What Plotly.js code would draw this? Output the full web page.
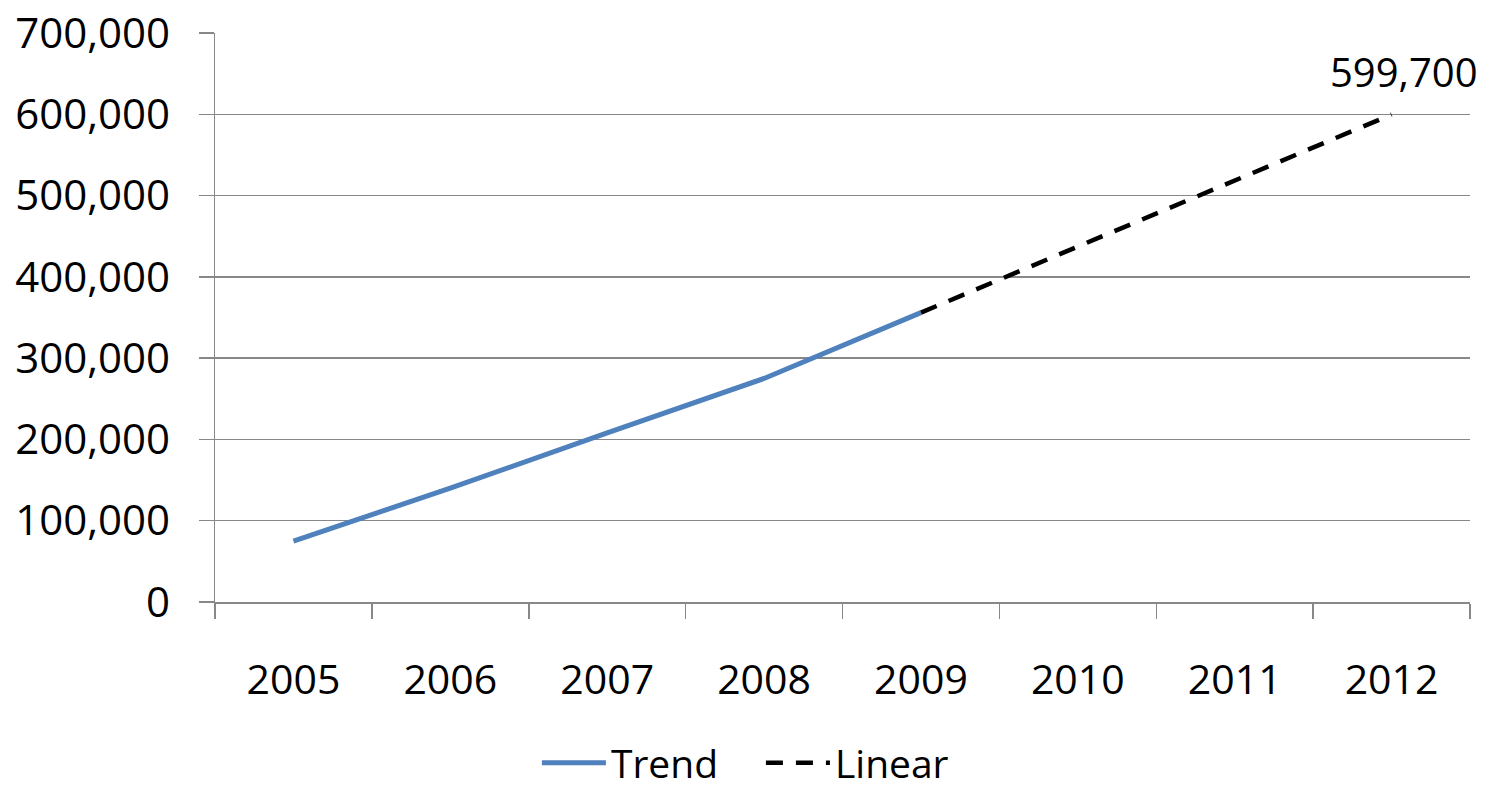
<!DOCTYPE html>
<html>
<head>
<meta charset="utf-8">
<script src="https://cdn.plot.ly/plotly-3.0.1.min.js"></script>
<style>html,body{margin:0;padding:0;background:#fff;}#chart{width:1488px;height:789px;}</style>
</head>
<body>
<div id="chart"></div>
<script>
const categories = ["2005", "2006", "2007", "2008", "2009", "2010", "2011", "2012"];
const trendYears = ["2005", "2006", "2007", "2008", "2009"];
const trendValues = [75000, 140000, 208000, 275000, 356000];
const linearYears = ["2009", "2012"];
const linearValues = [356000, 599700];
const yTicks = [0, 100000, 200000, 300000, 400000, 500000, 600000, 700000];
const yTickLabels = ["0", "100,000", "200,000", "300,000", "400,000", "500,000", "600,000", "700,000"];
const endLabel = "599,700";

const FONT = "Open Sans, Noto Sans, sans-serif";

const traces = [
  {
    x: trendYears, y: trendValues, type: "scatter", mode: "lines", name: "Trend",
    line: {color: "#4F81BD", width: 5}
  },
  {
    x: linearYears, y: linearValues, type: "scatter", mode: "lines", name: "Linear",
    line: {color: "#000000", width: 4.5, dash: "17px,13px"}
  }
];

const layout = {
  width: 1488, height: 789,
  margin: {l: 215, r: 18, t: 33, b: 187},
  paper_bgcolor: "#fff", plot_bgcolor: "#fff",
  font: {family: FONT, size: 40, color: "#000"},
  showlegend: true,
  legend: {
    orientation: "h", xref: "paper", x: 0.435, xanchor: "center",
    yref: "container", y: 0.033, yanchor: "middle",
    font: {family: FONT, size: 39, color: "#000"}, itemwidth: 64,
    entrywidth: 145, entrywidthmode: "pixels"
  },
  xaxis: {
    type: "category", categoryorder: "array", categoryarray: categories,
    range: [-0.5, 7.5], tickson: "boundaries",
    ticks: "outside", ticklen: 15, tickwidth: 1.5, tickcolor: "#888",
    showline: true, linecolor: "#888", linewidth: 1.5,
    showgrid: false, zeroline: false,
    ticklabelstandoff: 41,
    tickfont: {family: FONT, size: 41, color: "#000"},
    fixedrange: true
  },
  yaxis: {
    range: [0, 700000], tickmode: "array", tickvals: yTicks, ticktext: yTickLabels,
    ticks: "outside", ticklen: 15, tickwidth: 1.5, tickcolor: "#888",
    showline: true, linecolor: "#888", linewidth: 1.5,
    showgrid: true, gridcolor: "#888", gridwidth: 1.5,
    zeroline: false,
    ticklabelstandoff: 20,
    tickfont: {family: FONT, size: 42, color: "#000"},
    fixedrange: true
  },
  annotations: [{
    x: categories.indexOf(linearYears[linearYears.length - 1]),
    y: linearValues[linearValues.length - 1],
    xref: "x", yref: "y", text: endLabel, showarrow: false,
    xanchor: "center", yanchor: "bottom", xshift: 12, yshift: 14,
    font: {family: FONT, size: 40, color: "#000"}
  }]
};

Plotly.newPlot("chart", traces, layout, {displayModeBar: false, staticPlot: true});
</script>
</body>
</html>
